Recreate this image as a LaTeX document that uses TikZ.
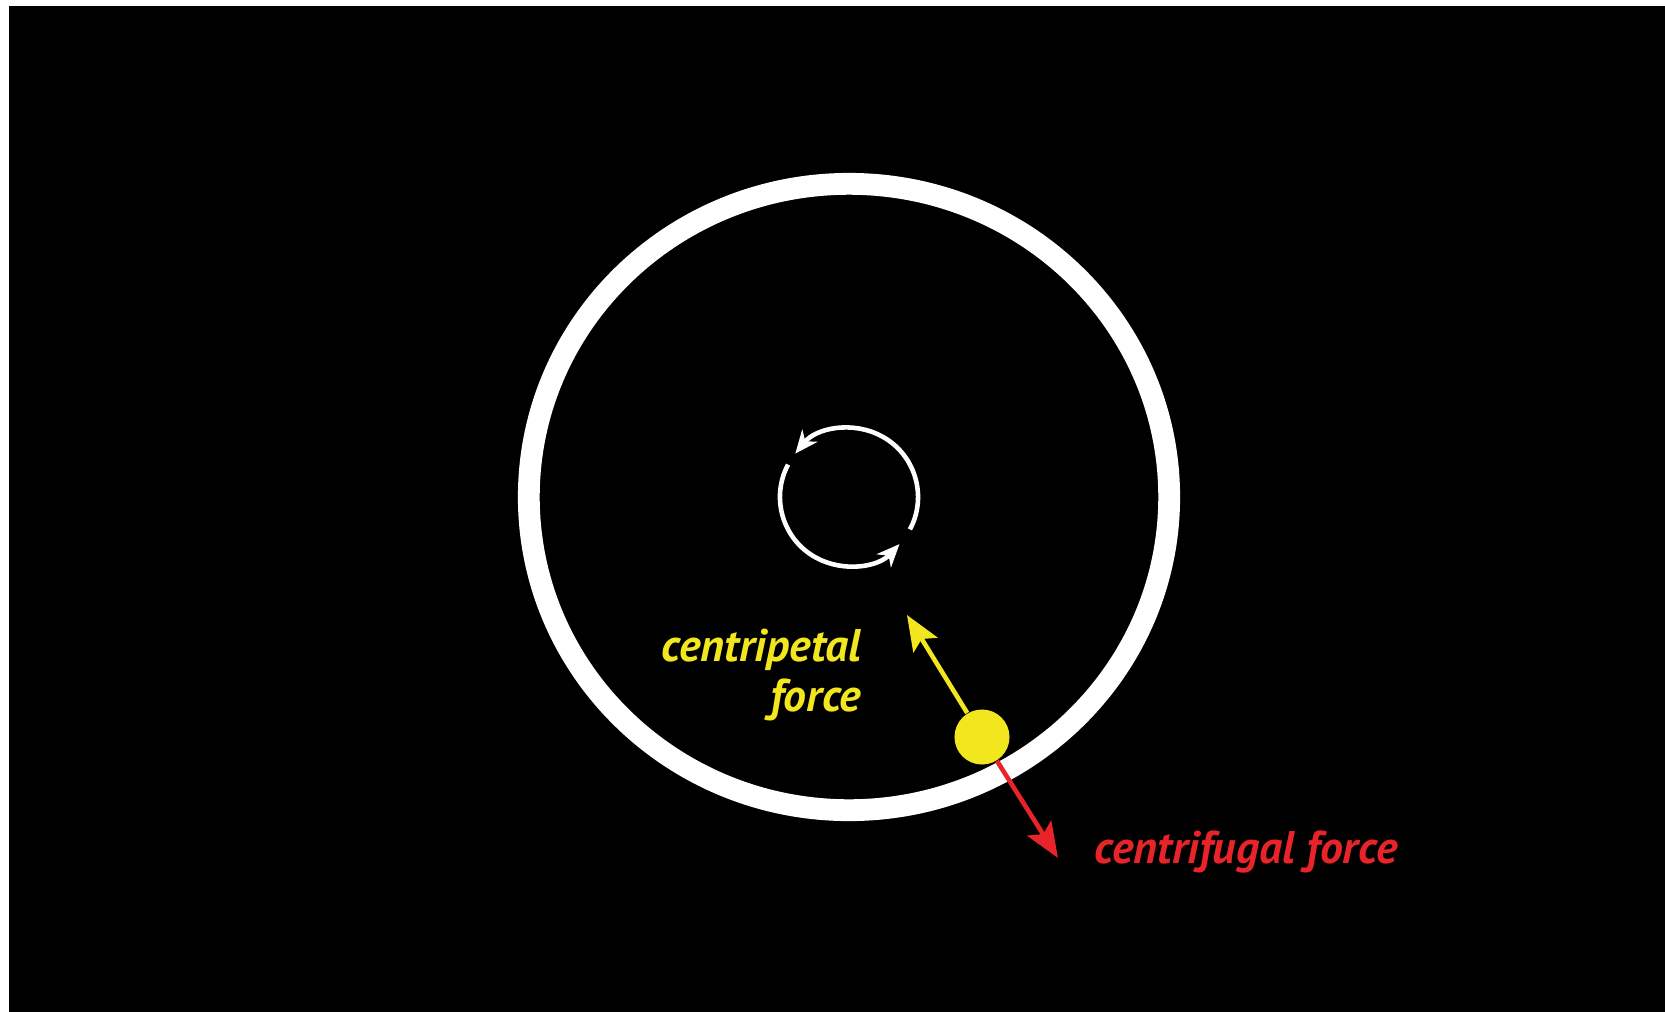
\documentclass[tikz,border=0pt]{standalone}
\usepackage{fontspec}
\usetikzlibrary{arrows.meta}
\newfontfamily\labelfont{PT Sans}
\definecolor{ballyellow}{RGB}{242,230,30}
\definecolor{flingred}{RGB}{232,35,42}

\begin{document}
\begin{tikzpicture}[x=0.01cm, y=-0.01cm,
            ring/.style={draw=white, line width=6.2pt},
            spin/.style={draw=white, line width=1.3pt, -{Stealth[length=6.5pt, width=5.5pt, inset=2pt]}},
            force/.style={line width=1.3pt, -{Stealth[length=10pt, width=8pt, inset=2pt]}},
            lbl/.style={font=\labelfont\bfseries\itshape\fontsize{13}{14.2}\selectfont, inner sep=0pt},
        ]
            % page and black backdrop
            \useasboundingbox (0,0) rectangle (1665,1011);
            \fill[white] (0,0) rectangle (1665,1011);
            \fill[black] (9,6) rectangle (1675,1021);

            % the track and the turning sense at its centre
            \coordinate (hub) at (849,497);
            \draw[ring] (hub) ellipse [x radius=3.2cm, y radius=3.13cm];
            \draw[spin] ([shift={(-28:0.69cm)}]hub) arc[start angle=-28, end angle=141, radius=0.69cm];
            \draw[spin] ([shift={(152:0.69cm)}]hub) arc[start angle=152, end angle=317, radius=0.69cm];

            % the ball and the two forces on it
            \node[circle, fill=ballyellow, minimum size=0.55cm, inner sep=0pt] (ball) at (982,737) {};
            \coordinate (pull) at (907,615);
            \coordinate (fling) at (1058,858);
            \draw[force, draw=ballyellow, fill=ballyellow] (ball) -- (pull);
            \draw[force, draw=flingred, fill=flingred] (ball) -- (fling);

            \node[lbl, text=ballyellow, align=right, anchor=north east] (inlbl) at (862,628) {centripetal\\force};
            \node[lbl, text=flingred, anchor=base west] (outlbl) at (1094,863) {centrifugal force};
        \end{tikzpicture}
\end{document}
